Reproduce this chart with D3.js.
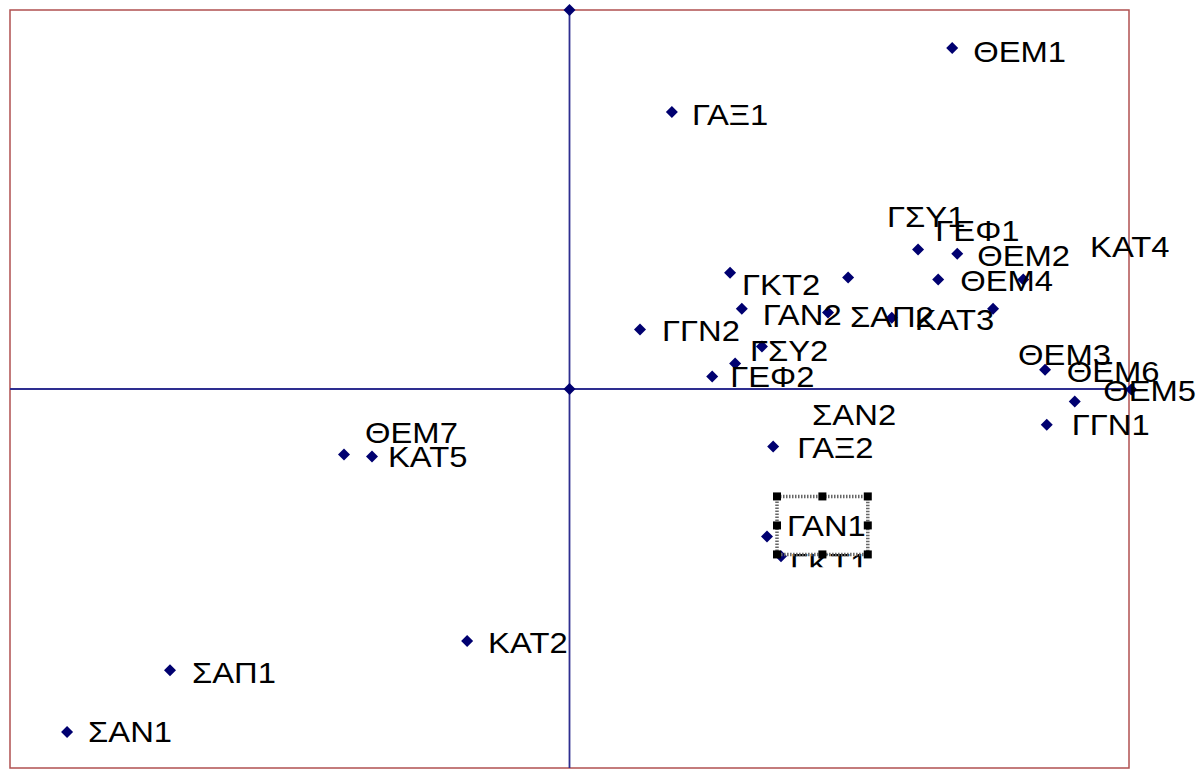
<!DOCTYPE html>
<html><head><meta charset="utf-8">
<script src="https://cdn.jsdelivr.net/npm/d3@7"></script>
<style>html,body{margin:0;padding:0;background:#fff;overflow:hidden}</style>
</head><body><svg id="c" width="1201" height="769"></svg>
<script>
// ---- data ----
const names   = ["", "", "ΘΕΜ1", "ΓΑΞ1", "ΓΣΥ1", "ΘΕΜ2", "ΘΕΜ4", "ΓΕΦ1", "", "ΓΚΤ2", "ΓΑΝ2", "ΣΑΠ2", "ΚΑΤ3", "ΚΑΤ4",
                 "ΓΓΝ2", "ΓΣΥ2", "ΣΑΝ2", "ΓΕΦ2", "ΘΕΜ3", "ΘΕΜ6", "ΓΓΝ1", "ΘΕΜ5", "ΓΑΞ2", "ΓΑΝ1", "ΓΚΤ1",
                 "ΘΕΜ7", "ΚΑΤ5", "ΚΑΤ2", "ΣΑΠ1", "ΣΑΝ1"];
const xValues = [0, 0, 0.684, 0.183, 0.623, 0.693, 0.659, 0.811, 0.498, 0.287, 0.308, 0.462, 0.576, 0.757,
                 0.126, 0.344, 0.296, 0.255, 0.850, 0.903, 0.853, 1.004, 0.364, 0.353, 0.378,
                 -0.403, -0.353, -0.183, -0.714, -0.898];
const yValues = [1, 0, 0.900, 0.731, 0.368, 0.357, 0.289, 0.289, 0.294, 0.307, 0.212, 0.202, 0.188, 0.212,
                 0.157, 0.112, 0.067, 0.033, 0.051, -0.033, -0.094, -0.001, -0.152, -0.389, -0.441,
                 -0.173, -0.178, -0.665, -0.742, -0.905];
const xDomain = [-1, 1];
const yDomain = [-1, 1];

// ---- layout (label placement relative to the marker, px) ----
const defaultOffset = [20, 12];
const labelOffsets = {
  "ΘΕΜ1": [21, 14], "ΓΑΞ1": [20, 13], "ΓΣΥ1": [-31, -23], "ΘΕΜ2": [20, 12], "ΘΕΜ4": [22, 12],
  "ΓΕΦ1": [-88, -38], "ΚΑΤ4": [97, -52], "ΓΚΤ2": [12, 22], "ΓΑΝ2": [21, 16], "ΣΑΠ2": [22, 15],
  "ΚΑΤ3": [23, 12], "ΓΓΝ2": [22, 12], "ΓΣΥ2": [-12, 14], "ΣΑΝ2": [77, 61], "ΓΕΦ2": [18, 11],
  "ΘΕΜ3": [-27, -5], "ΘΕΜ6": [-8, -20], "ΘΕΜ5": [-28, 12], "ΓΓΝ1": [25, 10], "ΓΑΞ2": [24, 11],
  "ΓΑΝ1": [20, 0], "ΓΚΤ1": [9, 18], "ΘΕΜ7": [21, -12], "ΚΑΤ5": [16, 11], "ΚΑΤ2": [21, 12],
  "ΣΑΠ1": [22, 13], "ΣΑΝ1": [21, 10]
};
const selectedLabel = "ΓΑΝ1";
const clippedLabel = "ΓΚΤ1";

const W = 1201, H = 769;
const plot = {left: 10, top: 10, right: 1129, bottom: 768};

const svg = d3.select("#c");
const x = d3.scaleLinear().domain(xDomain).range([plot.left, plot.right]);
const y = d3.scaleLinear().domain(yDomain).range([plot.bottom, plot.top]);

const points = names.map((n, i) => ({name: n, x: xValues[i], y: yValues[i]}));

svg.append("rect").attr("width", W).attr("height", H).attr("fill", "#fff");

// frame
svg.append("rect")
  .attr("x", plot.left).attr("y", plot.top)
  .attr("width", plot.right - plot.left).attr("height", plot.bottom - plot.top)
  .attr("fill", "none").attr("stroke", "#b05050").attr("stroke-width", 1.5);

// axes through origin
svg.append("line").attr("x1", x(xDomain[0])).attr("x2", x(xDomain[1]))
  .attr("y1", y(0)).attr("y2", y(0)).attr("stroke", "#2e2e90").attr("stroke-width", 1.8);
svg.append("line").attr("x1", x(0)).attr("x2", x(0))
  .attr("y1", y(yDomain[0])).attr("y2", y(yDomain[1])).attr("stroke", "#2e2e90").attr("stroke-width", 1.8);

// markers
const r = 6;
svg.append("g").selectAll("path").data(points).join("path")
  .attr("d", d => { const cx = x(d.x), cy = y(d.y);
    return `M${cx},${cy - r}L${cx + r},${cy}L${cx},${cy + r}L${cx - r},${cy}Z`; })
  .attr("fill", "#000070");

// labels
const defs = svg.append("defs");
const lg = svg.append("g")
  .attr("font-family", "'Liberation Sans', Arial, sans-serif")
  .attr("font-size", 29).attr("fill", "#000");
const sx = 1.13;

points.filter(d => d.name).forEach(d => {
  const off = labelOffsets[d.name] || defaultOffset;
  const lx = x(d.x) + off[0], ly = y(d.y) + off[1];
  const g = lg.append("g");
  if (d.name === clippedLabel) {
    defs.append("clipPath").attr("id", "clipK")
      .append("rect").attr("x", lx - 5).attr("y", y(d.y) - 5).attr("width", 120).attr("height", 16);
    g.attr("clip-path", "url(#clipK)");
  }
  const t = g.append("text")
    .attr("transform", `translate(${lx},${ly}) scale(${sx},1)`)
    .text(d.name);
  if (d.name === selectedLabel) {
    const bb = t.node().getBBox();
    const bx = lx - 10, by = ly - 40, bw = bb.width * sx + 12, bh = 58;
    const sel = svg.append("g");
    sel.append("rect").attr("x", bx).attr("y", by).attr("width", bw).attr("height", bh)
      .attr("fill", "none").attr("stroke", "#666").attr("stroke-width", 3.5)
      .attr("stroke-dasharray", "1.5,1.5");
    const hs = 8;
    [[0,0],[0.5,0],[1,0],[0,0.5],[1,0.5],[0,1],[0.5,1],[1,1]].forEach(([fx, fy]) => {
      sel.append("rect").attr("x", bx + fx * bw - hs / 2).attr("y", by + fy * bh - hs / 2)
        .attr("width", hs).attr("height", hs).attr("fill", "#000");
    });
  }
});
</script>
</body></html>
